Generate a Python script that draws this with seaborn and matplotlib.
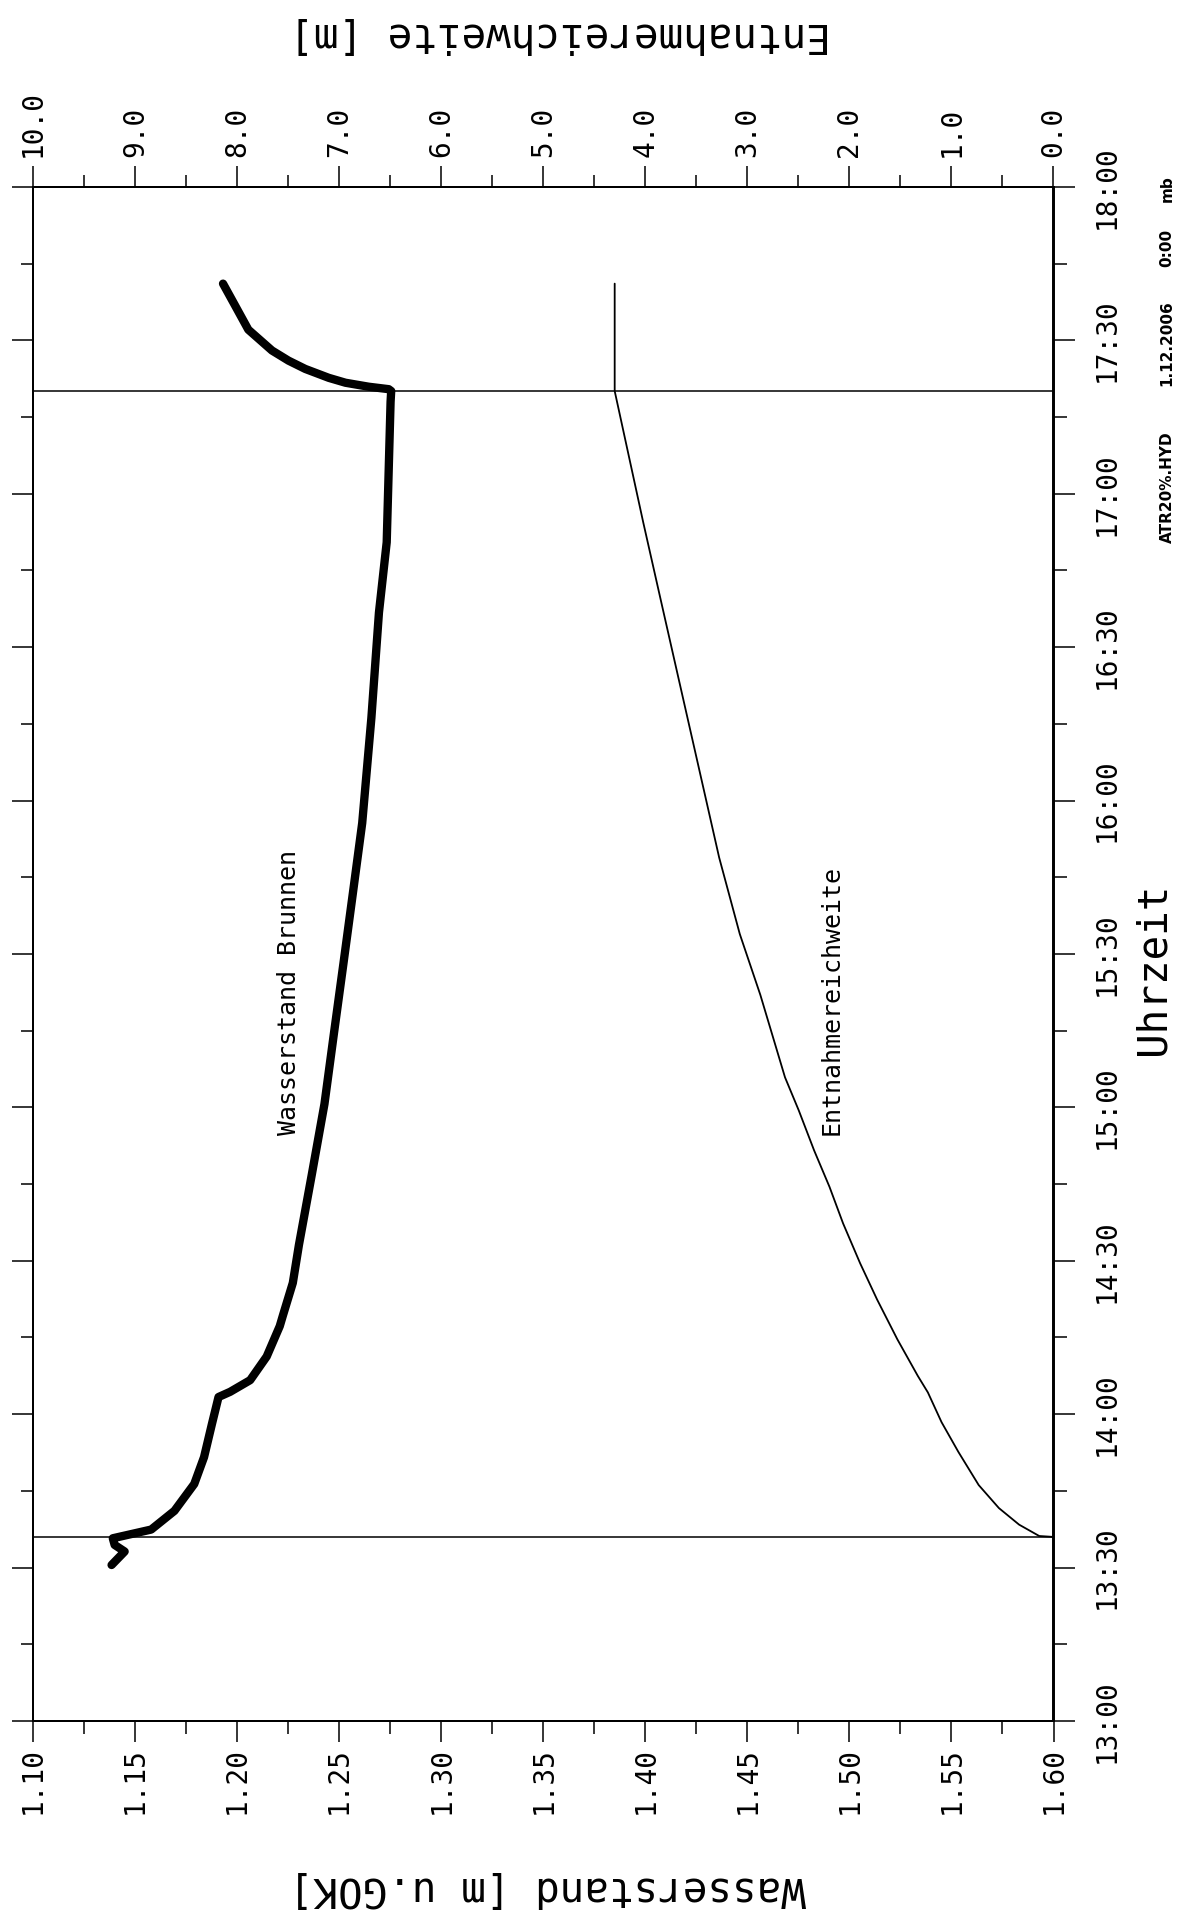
import numpy as np
import pandas as pd
import matplotlib
matplotlib.use("Agg")
import matplotlib.pyplot as plt
from matplotlib.ticker import MultipleLocator
import seaborn as sns

# ---------------- data ----------------
# Wasserstand Brunnen: time (decimal hours) and water level [m u. GOK]
well_time = [13.5085, 13.5524, 13.574, 13.5956, 13.624, 13.685, 13.7725, 13.860,
             13.969, 14.056, 14.073, 14.111, 14.188, 14.287, 14.323, 14.428,
             14.552, 14.781, 15.011, 15.239, 15.469, 15.697, 15.927, 16.270,
             16.613, 16.842, 17.300, 17.335, 17.341, 17.349, 17.362, 17.378,
             17.407, 17.434, 17.467, 17.535, 17.615, 17.685]
well_level = [1.1385, 1.1449, 1.1400, 1.1391, 1.1579, 1.1693, 1.1790, 1.1838,
              1.1877, 1.1909, 1.1966, 1.2064, 1.2145, 1.2209, 1.2225, 1.2273,
              1.2303, 1.2366, 1.2428, 1.2474, 1.2521, 1.2567, 1.2613, 1.2658,
              1.2695, 1.2733, 1.2752, 1.2755, 1.2743, 1.2645, 1.2531, 1.2449,
              1.2334, 1.2252, 1.2171, 1.2055, 1.1989, 1.1931]

# Entnahmereichweite: time (decimal hours) and reach [m]
reach_time = [13.600, 13.603, 13.640, 13.694, 13.769, 13.877, 13.974, 14.071,
              14.125, 14.244, 14.374, 14.492, 14.622, 14.741, 14.860, 14.990,
              15.098, 15.367, 15.565, 15.814, 16.112, 16.411, 16.659, 16.908,
              17.335, 17.685]
reach_value = [0.0, 0.140, 0.337, 0.535, 0.733, 0.932, 1.097, 1.231,
               1.330, 1.530, 1.729, 1.895, 2.062, 2.195, 2.346, 2.496,
               2.631, 2.873, 3.074, 3.276, 3.479, 3.683, 3.852, 4.021,
               4.300, 4.300]

# pump start / stop
event_times = [13.600, 17.335]

# ticks
time_ticks = [13.0, 13.5, 14.0, 14.5, 15.0, 15.5, 16.0, 16.5, 17.0, 17.5, 18.0]
time_labels = ["13:00", "13:30", "14:00", "14:30", "15:00", "15:30",
               "16:00", "16:30", "17:00", "17:30", "18:00"]
level_ticks = [1.10, 1.15, 1.20, 1.25, 1.30, 1.35, 1.40, 1.45, 1.50, 1.55, 1.60]
level_labels = ["1.10", "1.15", "1.20", "1.25", "1.30", "1.35",
                "1.40", "1.45", "1.50", "1.55", "1.60"]
reach_ticks = [10.0, 9.0, 8.0, 7.0, 6.0, 5.0, 4.0, 3.0, 2.0, 1.0, 0.0]
reach_labels = ["10.0", "9.0", "8.0", "7.0", "6.0", "5.0",
                "4.0", "3.0", "2.0", "1.0", "0.0"]

curve_names = ["Wasserstand Brunnen", "Entnahmereichweite"]
title_top = "Entnahmereichweite [m]"
title_bottom = "Wasserstand [m u.GOK]"
title_right = "Uhrzeit"
footer_parts = ["ATR20%.HYD", "1.12.2006", "0:00", "mb"]

# ---------------- style ----------------
sns.set_theme(style="ticks", rc={
    "axes.edgecolor": "black", "xtick.color": "black", "ytick.color": "black",
    "text.color": "black", "axes.linewidth": 1.4,
})
plt.rcParams["font.family"] = ["DejaVu Sans Mono", "DejaVu Sans"]

W, H = 1183, 1911
fig = plt.figure(figsize=(W / 100, H / 100), dpi=100)
fig.patch.set_facecolor("white")
L, R, T, B = 33, 1053.5, 187, 1721
ax = fig.add_axes([L / W, 1 - B / H, (R - L) / W, (B - T) / H])
ax2 = ax.twiny()

well_df = pd.DataFrame({"Uhrzeit": well_time, "Wasserstand": well_level})
reach_df = pd.DataFrame({"Uhrzeit": reach_time, "Reichweite": reach_value})

sns.lineplot(data=well_df, x="Wasserstand", y="Uhrzeit", sort=False,
             estimator=None, color="black", linewidth=6, ax=ax,
             solid_joinstyle="round", solid_capstyle="round")
sns.lineplot(data=reach_df, x="Reichweite", y="Uhrzeit", sort=False,
             estimator=None, color="black", linewidth=1.3, ax=ax2,
             solid_joinstyle="round")

for t in event_times:
    ax.axhline(t, color="black", lw=1.1)

ax.set_xlim(1.10, 1.60)
ax.set_ylim(13.0, 18.0)
ax2.set_xlim(10.0, 0.0)
ax.set_xlabel("")
ax.set_ylabel("")
ax2.set_xlabel("")
ax2.set_ylabel("")

ax.set_xticks(level_ticks)
ax.set_xticklabels(level_labels, rotation=90)
ax.xaxis.set_minor_locator(MultipleLocator(0.025))
ax.set_yticks(time_ticks)
ax.set_yticklabels(time_labels, rotation=90, va="center")
ax.yaxis.set_minor_locator(MultipleLocator(0.25))
ax.tick_params(axis="y", which="both", left=True, right=True,
               labelleft=False, labelright=True, direction="out")
ax.tick_params(axis="x", which="both", bottom=True, top=False, direction="out")
ax.tick_params(axis="both", which="major", length=15, width=1.1, labelsize=20)
ax.tick_params(axis="both", which="minor", length=9, width=1.1)
ax.tick_params(axis="x", which="major", pad=3.6)
ax.tick_params(axis="y", which="major", pad=13)

ax2.set_xticks(reach_ticks)
ax2.set_xticklabels(reach_labels, rotation=90)
ax2.xaxis.set_minor_locator(MultipleLocator(0.5))
ax2.tick_params(axis="x", which="major", length=15, width=1.1, labelsize=20,
                pad=6.5, direction="out")
ax2.tick_params(axis="x", which="minor", length=9, width=1.1, direction="out")

for a in (ax, ax2):
    for s in a.spines.values():
        s.set_visible(True)
        s.set_linewidth(1.4)
        s.set_color("black")
    a.grid(False)
    leg = a.get_legend()
    if leg is not None:
        leg.remove()

# curve labels
ax.text(1.2254, 15.373, curve_names[0], rotation=90, ha="center", va="center",
        fontsize=18)
ax.text(1.4911, 15.351, curve_names[1], rotation=90, ha="center", va="center",
        fontsize=18)

# axis titles
fig.text(560 / W, 1 - 34 / H, title_top, rotation=180, ha="center", va="center",
         fontsize=29.5)
fig.text(547 / W, 1 - 1888 / H, title_bottom, rotation=180, ha="center",
         va="center", fontsize=29.5)
fig.text(1154 / W, 1 - 969 / H, title_right, rotation=90, ha="center",
         va="center", fontsize=29.5)

# footer
footer_y = [487, 343, 248, 189]
for txt, yy in zip(footer_parts, footer_y):
    fig.text(1167 / W, 1 - yy / H, txt, rotation=90, ha="center", va="center",
             fontsize=11, fontweight="bold", family="DejaVu Sans")

fig.savefig("out.png", dpi=100, facecolor="white")
